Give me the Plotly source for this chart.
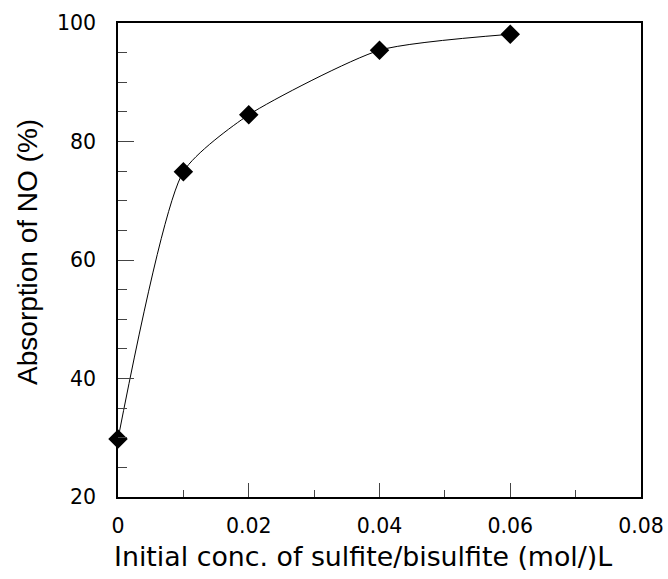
import plotly.graph_objects as go

conc = [0.0, 0.01, 0.02, 0.04, 0.06]
absorption = [29.8, 74.9, 84.5, 95.4, 98.1]
x_title = "Initial conc. of sulfite/bisulfite (mol/)L"
y_title = "Absorption of NO (%)"

fig = go.Figure()
fig.add_trace(go.Scatter(
    x=conc, y=absorption, mode="lines+markers",
    line=dict(color="black", width=1, shape="spline", smoothing=0.6),
    marker=dict(symbol="diamond", size=15, color="black"),
    showlegend=False, cliponaxis=False,
))

tickfont = dict(family="DejaVu Sans, sans-serif", size=20.5, color="black")
fig.update_layout(
    width=668, height=579,
    margin=dict(l=118, r=27, t=23, b=82),
    paper_bgcolor="white", plot_bgcolor="white",
    font=dict(family="Liberation Sans, Arial, sans-serif", color="black", size=18),
)
fig.update_xaxes(
    range=[0, 0.08], dtick=0.02, tick0=0, tickformat="~g", automargin=False,
    ticks="inside", ticklen=14, tickcolor="#444", tickwidth=1,
    minor=dict(dtick=0.01, ticks="inside", ticklen=7, tickcolor="#444"),
    showline=True, linecolor="black", linewidth=1.5, mirror=True,
    showgrid=False, zeroline=False,
    tickfont=tickfont, ticklabelstandoff=10,
)
fig.update_yaxes(
    range=[20, 100], dtick=20, tick0=20, automargin=False,
    ticks="inside", ticklen=16, tickcolor="#444", tickwidth=1,
    minor=dict(dtick=5, ticks="inside", ticklen=9, tickcolor="#444"),
    showline=True, linecolor="black", linewidth=1.5, mirror=True,
    showgrid=False, zeroline=False,
    tickfont=tickfont, ticklabelstandoff=16,
)
fig.add_annotation(
    text=x_title, xref="paper", yref="paper", x=0.4675, y=-0.1245,
    xanchor="center", yanchor="middle", showarrow=False,
    font=dict(family="DejaVu Sans, sans-serif", size=26.8, color="black"),
)
fig.add_annotation(
    text=y_title, xref="paper", yref="paper", x=(28 - 118) / 523, y=0.517,
    xanchor="center", yanchor="middle", showarrow=False, textangle=-90,
    font=dict(family="Liberation Sans, Arial, sans-serif", size=28, color="black"),
)
fig.write_html("out.html")
